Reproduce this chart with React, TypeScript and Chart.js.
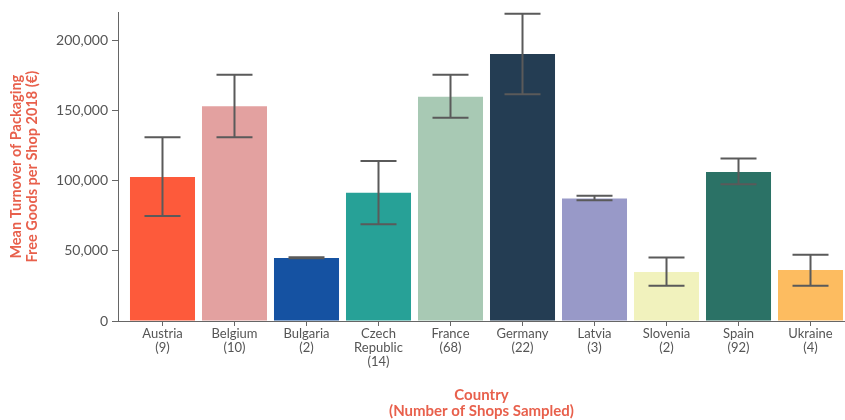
import React, { useEffect, useRef } from "react";
import { Chart, registerables } from "chart.js";

Chart.register(...registerables);

const countries: string[][] = [
  ["Austria", "(9)"],
  ["Belgium", "(10)"],
  ["Bulgaria", "(2)"],
  ["Czech", "Republic", "(14)"],
  ["France", "(68)"],
  ["Germany", "(22)"],
  ["Latvia", "(3)"],
  ["Slovenia", "(2)"],
  ["Spain", "(92)"],
  ["Ukraine", "(4)"],
];
const meanTurnover = [102700, 153100, 45000, 91400, 159900, 190300, 87400, 34900, 106200, 36300];
const errLow = [74900, 131000, 44800, 69000, 144900, 161600, 86000, 25200, 97500, 25200];
const errHigh = [131000, 175500, 45400, 114000, 175500, 219100, 89300, 45200, 115900, 47300];
const barColors = [
  "#fd5a3b",
  "#e3a1a0",
  "#1552a2",
  "#27a197",
  "#a8c9b4",
  "#243d53",
  "#9899c8",
  "#f1f2bd",
  "#2b7266",
  "#fdbc60",
];
const yTicks = [0, 50000, 100000, 150000, 200000];

const errorBarPlugin = {
  id: "errorBars",
  afterDatasetsDraw(chart: any) {
    const xs = chart.scales.x;
    const ys = chart.scales.y;
    const ctx = chart.ctx;
    ctx.save();
    ctx.strokeStyle = "#5a5a5a";
    ctx.lineWidth = 2;
    for (let i = 0; i < meanTurnover.length; i++) {
      const x = xs.getPixelForValue(i);
      const yH = ys.getPixelForValue(errHigh[i]);
      const yL = ys.getPixelForValue(errLow[i]);
      ctx.beginPath();
      ctx.moveTo(x, yH);
      ctx.lineTo(x, yL);
      ctx.moveTo(x - 18, yH);
      ctx.lineTo(x + 18, yH);
      ctx.moveTo(x - 18, yL);
      ctx.lineTo(x + 18, yL);
      ctx.stroke();
    }
    ctx.restore();
  },
};

export default function App() {
  const ref = useRef<HTMLCanvasElement | null>(null);
  useEffect(() => {
    if (!ref.current) return;
    const chart = new Chart(ref.current, {
      type: "bar",
      data: {
        datasets: [
          {
            data: meanTurnover.map((v, i) => ({ x: i, y: v })),
            backgroundColor: barColors,
            borderWidth: 0,
            barPercentage: 0.903,
            categoryPercentage: 1,
          },
        ],
      },
      options: {
        animation: false,
        responsive: true,
        maintainAspectRatio: false,
        layout: { padding: { top: 10, right: 0, bottom: 0, left: 0 } },
        plugins: { legend: { display: false }, tooltip: { enabled: false } },
        scales: {
          x: {
            type: "linear",
            offset: false,
            min: -0.618,
            max: 9.479,
            afterFit: (s: any) => {
              s.height = 99;
            },
            afterBuildTicks: (s: any) => {
              s.ticks = countries.map((_, i) => ({ value: i }));
            },
            grid: { offset: false, drawOnChartArea: false, drawTicks: true, tickLength: 5, color: "#666" },
            border: { color: "#666", width: 1 },
            ticks: {
              autoSkip: false,
              maxRotation: 0,
              padding: 1,
              color: "#555",
              font: { family: "Lato", size: 13, lineHeight: "14px" },
              callback: (v: any) => countries[Math.round(Number(v))] || "",
            },
            title: {
              display: true,
              text: ["Country", "(Number of Shops Sampled)"],
              color: "#e8604c",
              font: { family: "Lato", size: 15, weight: "bold", lineHeight: "16px" },
              padding: { top: 0, bottom: 1 },
            },
          },
          y: {
            min: 0,
            max: 220000,
            afterFit: (s: any) => {
              s.width = 118;
            },
            afterBuildTicks: (s: any) => {
              s.ticks = yTicks.map((v) => ({ value: v }));
            },
            grid: { drawOnChartArea: false, drawTicks: true, tickLength: 6, color: "#666" },
            border: { color: "#666", width: 1 },
            ticks: {
              padding: 4,
              color: "#555",
              font: { family: "Lato", size: 14 },
              callback: (v: any) => Number(v).toLocaleString("en-US"),
            },
            title: {
              display: true,
              text: ["Mean Turnover of Packaging", "Free Goods per Shop 2018 (€)"],
              color: "#e8604c",
              font: { family: "Lato", size: 14.5, weight: "bold", lineHeight: "16px" },
              padding: { top: 8, bottom: 0 },
            },
          },
        },
      },
      plugins: [errorBarPlugin],
    } as any);
    return () => chart.destroy();
  }, []);
  return (
    <div style={{ position: "fixed", left: 0, top: 0, width: 845, height: 420, background: "#fff" }}>
      <canvas ref={ref} />
    </div>
  );
}
